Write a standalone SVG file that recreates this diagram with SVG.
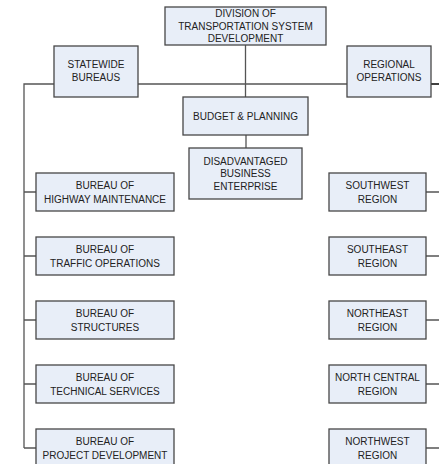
<svg xmlns="http://www.w3.org/2000/svg" width="439" height="464" viewBox="0 0 439 464">
<style>
.box{fill:#E8EEF8;stroke:#474747;stroke-width:1.3}
.t{font-family:"Liberation Sans",Arial,sans-serif;font-size:10px;fill:#222;text-anchor:middle}
.ln{stroke:#555;stroke-width:1.3;fill:none}
</style>
<rect width="439" height="464" fill="#fff"/>
<g id="connectors">
<path class="ln" d="M245.5 45V97M246 135V148M138 84H347M54 84H24V448M24 192H36M24 256H36M24 320H36M24 384H36M24 448H36M426 192H439M426 256H439M426 320H439M426 384H439M426 448H439"/>
<path d="M431 84H439" stroke="#111" stroke-width="1.6"/>
</g>
<g id="division"><rect class="box" x="165" y="7" width="161" height="38"/>
<text class="t" x="245.5" y="17">DIVISION OF</text><text class="t" x="245.5" y="29.5">TRANSPORTATION SYSTEM</text><text class="t" x="245.5" y="42">DEVELOPMENT</text></g>
<g id="statewide"><rect class="box" x="54" y="46" width="84" height="51"/>
<text class="t" x="96" y="68">STATEWIDE</text><text class="t" x="96" y="81">BUREAUS</text></g>
<g id="regional"><rect class="box" x="347" y="46" width="84" height="51"/>
<text class="t" x="389" y="68">REGIONAL</text><text class="t" x="389" y="81">OPERATIONS</text></g>
<g id="budget"><rect class="box" x="183" y="97" width="125" height="38"/>
<text class="t" x="245.5" y="120">BUDGET &amp; PLANNING</text></g>
<g id="dbe"><rect class="box" x="189" y="148" width="113" height="51"/>
<text class="t" x="245.5" y="164.5">DISADVANTAGED</text><text class="t" x="245.5" y="177">BUSINESS</text><text class="t" x="245.5" y="189.5">ENTERPRISE</text></g>
<g id="b1"><rect class="box" x="36" y="173" width="138" height="38"/>
<text class="t" x="105" y="189">BUREAU OF</text><text class="t" x="105" y="202.5">HIGHWAY MAINTENANCE</text></g>
<g id="b2"><rect class="box" x="36" y="237" width="138" height="38"/>
<text class="t" x="105" y="253">BUREAU OF</text><text class="t" x="105" y="266.5">TRAFFIC OPERATIONS</text></g>
<g id="b3"><rect class="box" x="36" y="301" width="138" height="38"/>
<text class="t" x="105" y="317">BUREAU OF</text><text class="t" x="105" y="330.5">STRUCTURES</text></g>
<g id="b4"><rect class="box" x="36" y="365" width="138" height="38"/>
<text class="t" x="105" y="381">BUREAU OF</text><text class="t" x="105" y="394.5">TECHNICAL SERVICES</text></g>
<g id="b5"><rect class="box" x="36" y="429" width="138" height="38"/>
<text class="t" x="105" y="445">BUREAU OF</text><text class="t" x="105" y="458.5">PROJECT DEVELOPMENT</text></g>
<g id="r1"><rect class="box" x="329" y="173" width="97" height="38"/>
<text class="t" x="377.5" y="189">SOUTHWEST</text><text class="t" x="377.5" y="202.5">REGION</text></g>
<g id="r2"><rect class="box" x="329" y="237" width="97" height="38"/>
<text class="t" x="377.5" y="253">SOUTHEAST</text><text class="t" x="377.5" y="266.5">REGION</text></g>
<g id="r3"><rect class="box" x="329" y="301" width="97" height="38"/>
<text class="t" x="377.5" y="317">NORTHEAST</text><text class="t" x="377.5" y="330.5">REGION</text></g>
<g id="r4"><rect class="box" x="329" y="365" width="97" height="38"/>
<text class="t" x="377.5" y="381">NORTH CENTRAL</text><text class="t" x="377.5" y="394.5">REGION</text></g>
<g id="r5"><rect class="box" x="329" y="429" width="97" height="38"/>
<text class="t" x="377.5" y="445">NORTHWEST</text><text class="t" x="377.5" y="458.5">REGION</text></g>
</svg>
